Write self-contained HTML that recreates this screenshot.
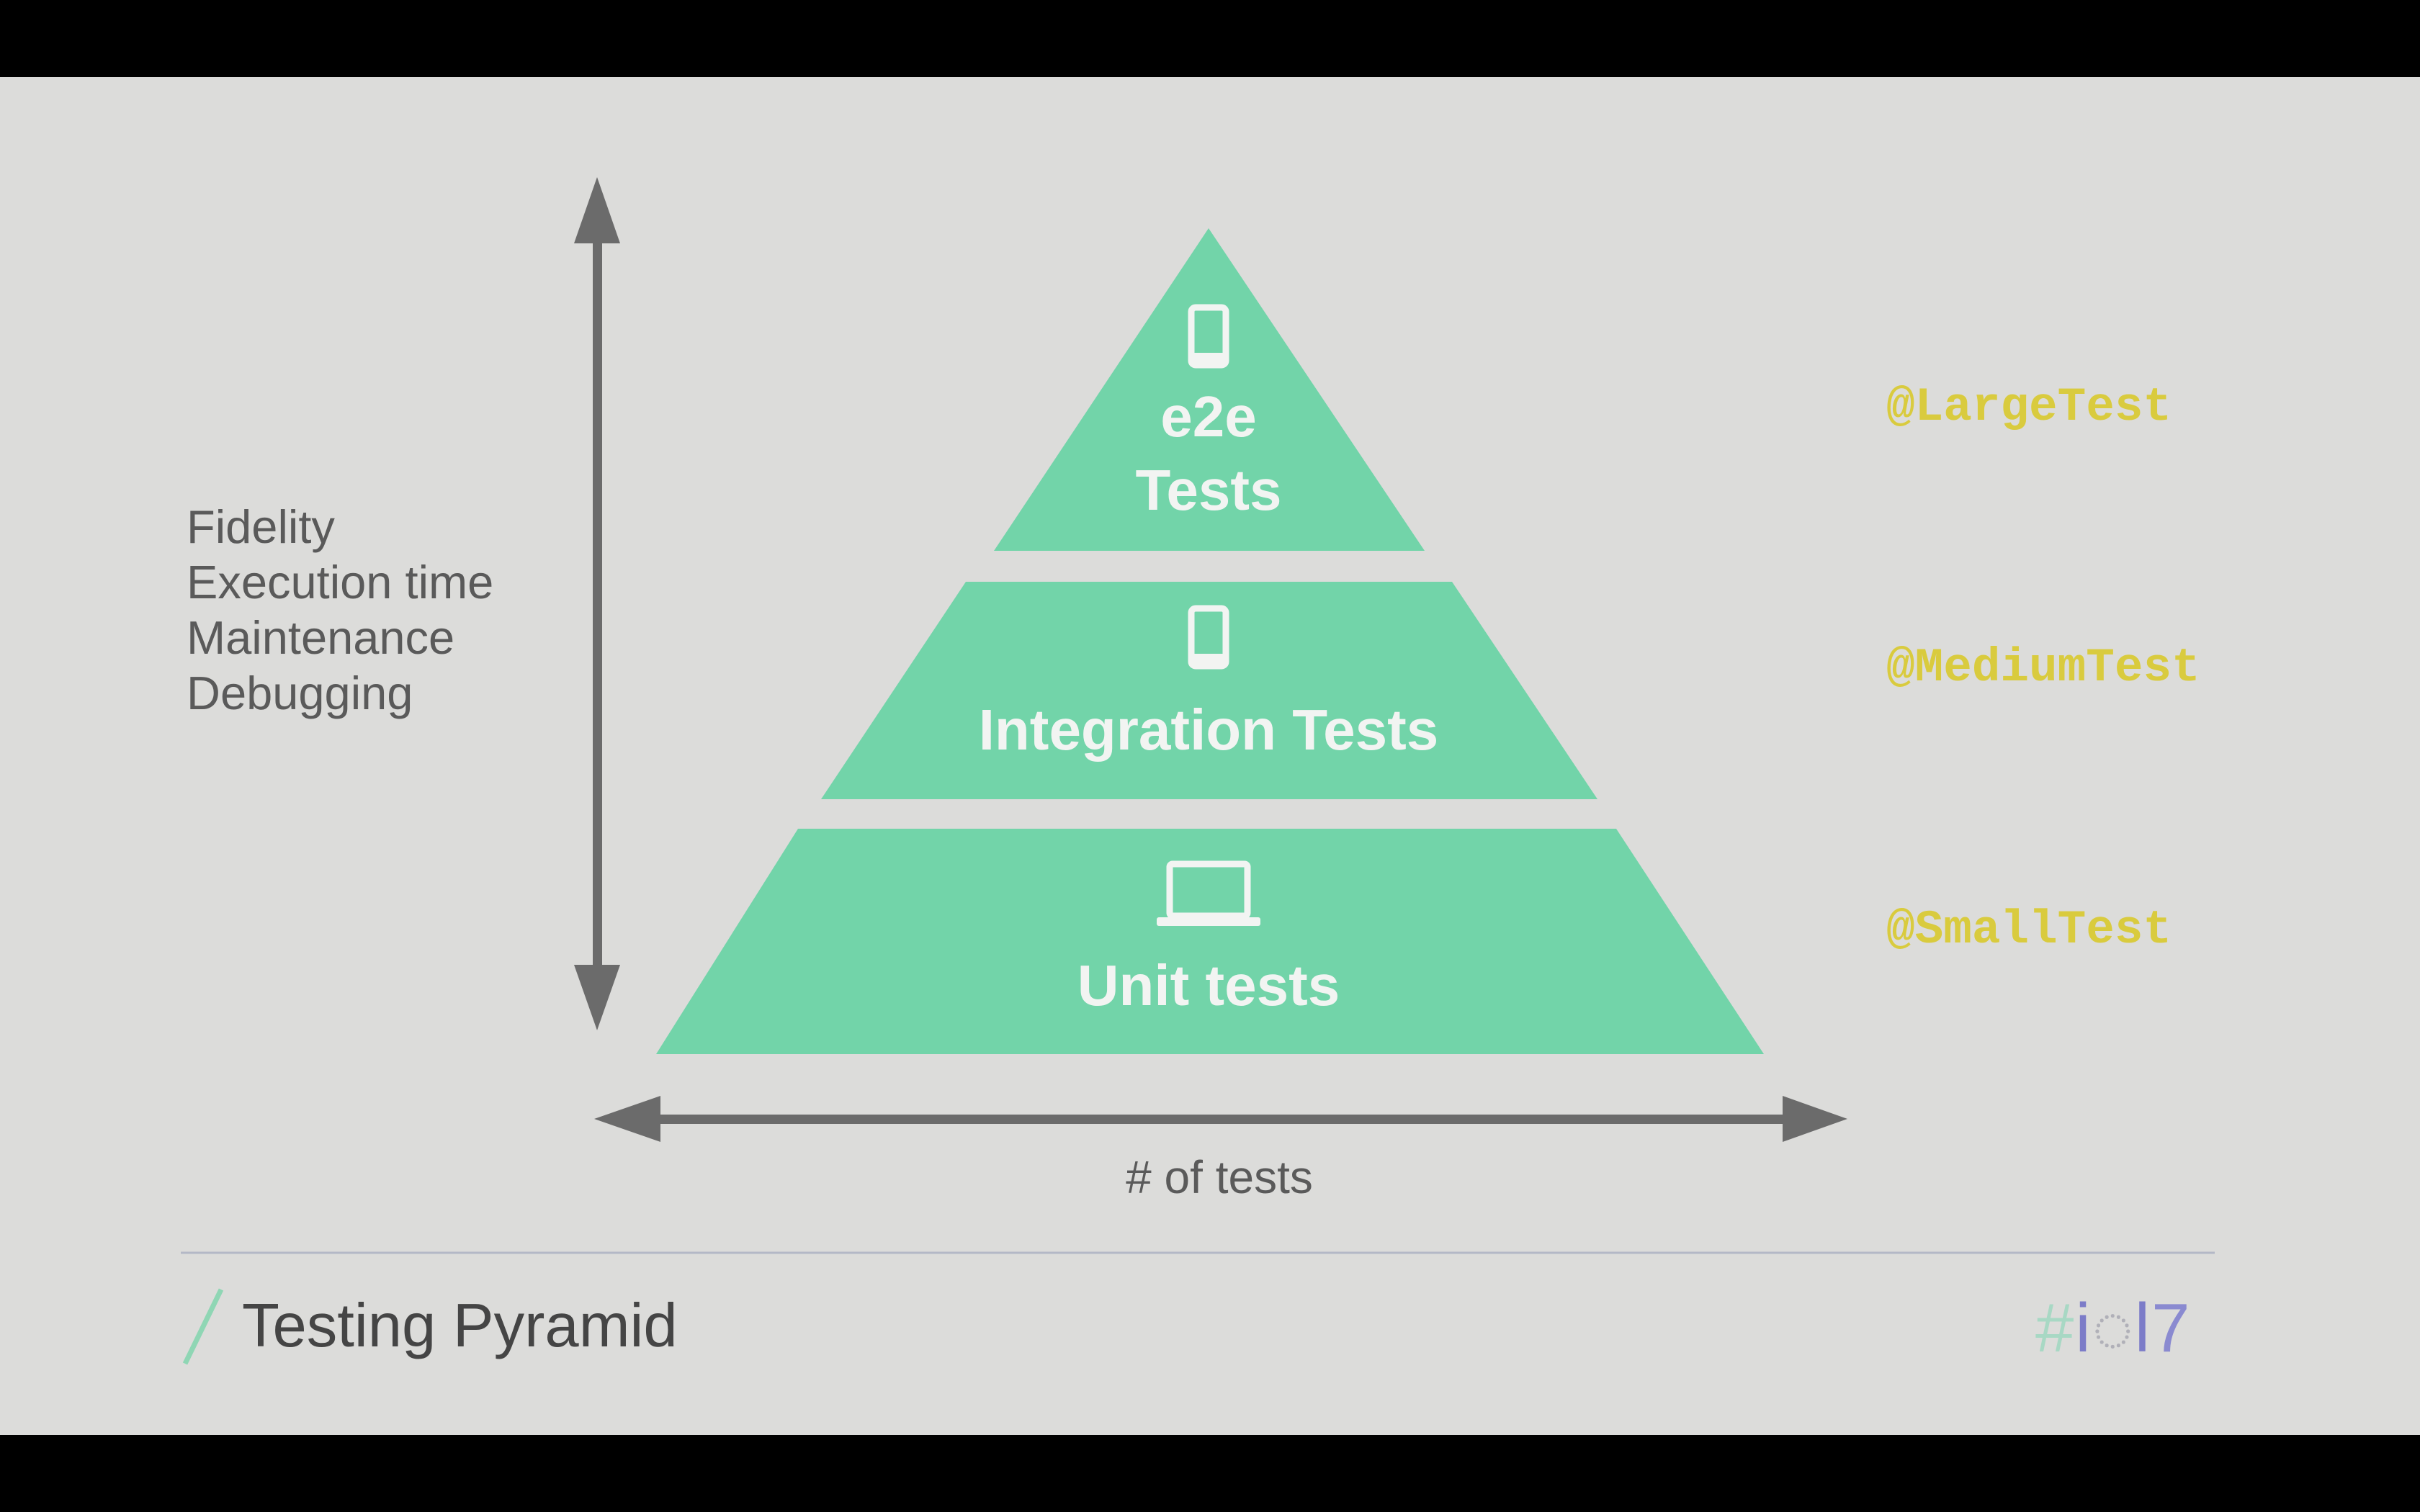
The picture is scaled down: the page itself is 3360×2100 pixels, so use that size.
<!DOCTYPE html>
<html><head><meta charset="utf-8"><style>
html,body{margin:0;padding:0;width:3360px;height:2100px;overflow:hidden;background:#000}
#s{position:absolute;left:0;top:107px;width:3360px;height:1886px;background:#dcdcda}
.t{position:absolute;font-family:"Liberation Sans",sans-serif;white-space:nowrap}
.c{transform:translate(-50%,-50%)}
.w{color:#f2f4f2;font-weight:bold;font-size:80px}
.g{color:#5a5a5a;font-size:65px}
.y{color:#d9cb3e;font-family:"Liberation Mono",monospace;font-weight:bold;font-size:66px}
</style></head><body>
<div id="s"></div>
<svg width="3360" height="2100" style="position:absolute;left:0;top:0">
<g fill="#72d4a9">
<polygon points="1678,317 1978,765 1380,765"/>
<polygon points="1341,808 2016,808 2218,1110 1140,1110"/>
<polygon points="1108,1151 2244,1151 2449,1464 911,1464"/>
</g>
<g stroke="#f2f4f2" fill="none" stroke-width="9">
<rect x="1654" y="427" width="48" height="80" rx="6"/>
<rect x="1654" y="845" width="48" height="80" rx="6"/>
<rect x="1624" y="1200" width="108" height="72" rx="4"/>
</g>
<g fill="#f2f4f2">
<rect x="1654" y="490" width="48" height="17"/>
<rect x="1654" y="908" width="48" height="17"/>
<rect x="1606" y="1274" width="144" height="12" rx="3"/>
</g>
<g fill="#6b6b6b">
<rect x="823" y="320" width="13" height="1040"/>
<polygon points="829,246 797,338 861,338"/>
<polygon points="829,1431 797,1340 861,1340"/>
<rect x="900" y="1548" width="1590" height="13"/>
<polygon points="825,1554 917,1522 917,1586"/>
<polygon points="2565,1554 2475,1522 2475,1586"/>
</g>
<line x1="251" y1="1740" x2="3075" y2="1740" stroke="#b4b8c6" stroke-width="3"/>
<line x1="307" y1="1791" x2="257" y2="1894" stroke="#8fd6b4" stroke-width="7"/>
</svg>
<div class="t c w" style="left:1678px;top:579px">e2e</div>
<div class="t c w" style="left:1678px;top:681px">Tests</div>
<div class="t c w" style="left:1678px;top:1014px">Integration Tests</div>
<div class="t c w" style="left:1678px;top:1369px">Unit tests</div>
<div class="t g" style="left:259px;top:693px;line-height:77px">Fidelity<br>Execution time<br>Maintenance<br>Debugging</div>
<div class="t c g" style="left:1693px;top:1635px;font-size:64px">#  of tests</div>
<div class="t y" style="left:2619px;top:528px">@LargeTest</div>
<div class="t y" style="left:2619px;top:890px">@MediumTest</div>
<div class="t y" style="left:2619px;top:1254px">@SmallTest</div>
<div class="t" style="left:336px;top:1793px;font-size:85px;color:#454545">Testing Pyramid</div>
<div class="t" style="left:2826px;top:1790px;font-size:96px;color:#7c7cc8;letter-spacing:2px"><span style="color:#a8d8c4">#</span>i<span style="color:#b0b0b8">◌</span>l<span style="color:#8a8ad0">7</span></div>
</body></html>
